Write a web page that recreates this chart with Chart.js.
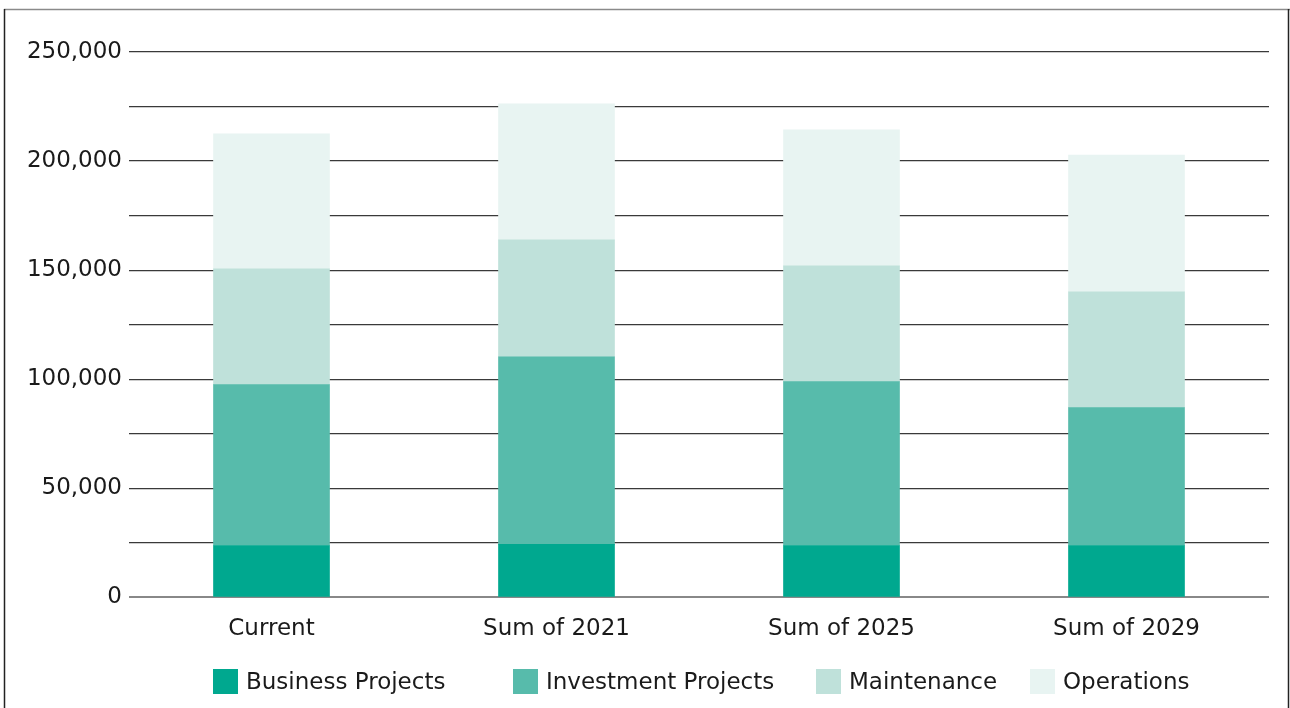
<!DOCTYPE html>
<html>
<head>
<meta charset="utf-8">
<script src="https://cdn.jsdelivr.net/npm/chart.js@4.4.1/dist/chart.umd.min.js"></script>
<style>
  html, body { margin: 0; padding: 0; background: #fff; }
  #wrap { position: absolute; left: 0; top: 0; width: 1290px; height: 708px; }
</style>
</head>
<body>
<div id="wrap"><canvas id="c" width="1290" height="708"></canvas></div>
<script>
const categories = ["Current", "Sum of 2021", "Sum of 2025", "Sum of 2029"];
const seriesNames = ["Business Projects", "Investment Projects", "Maintenance", "Operations"];
const businessProjects = [23800, 24300, 23800, 23800];
const investmentProjects = [73700, 86000, 75100, 63200];
const maintenance = [53100, 53600, 53100, 53100];
const operations = [61900, 62300, 62300, 62700];
const yTickStep = 25000;
const yLabelStep = 50000;
const yMax = 250000;

const colors = ["#00a88f", "#57bbab", "#bfe1da", "#e8f4f2"];
const FONT = "'DejaVu Sans', sans-serif";
const TEXT = '#1a1a1a';
// legend layout (style)
const legendX = [213, 513, 816, 1030];
const legendBoxTop = 669;
const legendBox = 25;

const framePlugin = {
  id: 'frame',
  afterDraw(chart) {
    const ctx = chart.ctx;
    ctx.save();
    ctx.strokeStyle = '#8a8a8a';
    ctx.lineWidth = 1.5;
    ctx.beginPath(); ctx.moveTo(4, 9.5); ctx.lineTo(1290, 9.5); ctx.stroke();
    ctx.strokeStyle = '#222';
    ctx.beginPath(); ctx.moveTo(4.5, 9); ctx.lineTo(4.5, 708); ctx.stroke();
    ctx.beginPath(); ctx.moveTo(1288.5, 9); ctx.lineTo(1288.5, 708); ctx.stroke();
    ctx.restore();
  }
};

const legendPlugin = {
  id: 'customLegend',
  afterDraw(chart) {
    const ctx = chart.ctx;
    ctx.save();
    ctx.font = "23px " + FONT;
    ctx.textBaseline = 'middle';
    ctx.textAlign = 'left';
    chart.data.datasets.forEach((ds, i) => {
      const x = legendX[i];
      ctx.fillStyle = ds.backgroundColor;
      ctx.fillRect(x, legendBoxTop, legendBox, legendBox);
      ctx.fillStyle = TEXT;
      ctx.fillText(ds.label, x + legendBox + 8, legendBoxTop + legendBox / 2 + 1.5);
    });
    ctx.restore();
  }
};

const data = {
  labels: categories,
  datasets: [businessProjects, investmentProjects, maintenance, operations].map((vals, i) => ({
    label: seriesNames[i],
    data: vals,
    backgroundColor: colors[i],
    borderWidth: 0,
    barThickness: 116
  }))
};

new Chart(document.getElementById('c'), {
  type: 'bar',
  data,
  plugins: [framePlugin, legendPlugin],
  options: {
    responsive: false,
    animation: false,
    devicePixelRatio: 1,
    layout: { padding: { left: 0, right: 21, top: 52, bottom: 55 } },
    plugins: {
      tooltip: { enabled: false },
      legend: { display: false }
    },
    scales: {
      x: {
        stacked: true,
        grid: { display: false },
        border: { display: false },
        ticks: { color: TEXT, font: { family: FONT, size: 23 }, padding: 10 }
      },
      y: {
        stacked: true,
        min: 0,
        max: yMax,
        afterFit: (s) => { s.width = 129; },
        border: { display: false },
        grid: {
          drawTicks: false,
          color: (c) => c.tick && c.tick.value === 0 ? '#888888' : '#3a3a3a',
          lineWidth: (c) => c.tick && c.tick.value === 0 ? 2 : 1.3
        },
        ticks: {
          stepSize: yTickStep,
          padding: 7,
          color: TEXT,
          font: { family: FONT, size: 23 },
          callback: (v) => v % yLabelStep === 0 ? v.toLocaleString('en-US') : ''
        }
      }
    }
  }
});
</script>
</body>
</html>
